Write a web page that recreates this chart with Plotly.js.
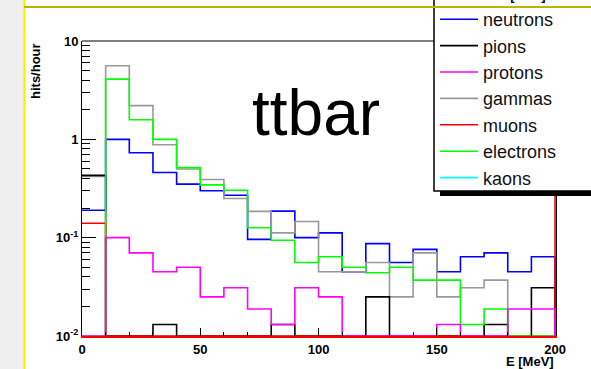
<!DOCTYPE html>
<html><head><meta charset="utf-8">
<script src="https://cdn.plot.ly/plotly-3.0.1.min.js"></script>
<style>html,body{margin:0;padding:0;background:#fff}#chart{width:591px;height:369px}</style>
</head><body><div id="chart"></div>
<script>
// ---- data (hits/hour per 10 MeV bin, 0 = empty bin) ----
const binEdges = [0,10,20,30,40,50,60,70,80,90,100,110,120,130,140,150,160,170,180,190,200];
const neutrons  = [0.19,1.0,0.73,0.46,0.35,0.30,0.27,0.096,0.186,0.10,0.112,0.045,0.087,0.056,0.076,0.045,0.064,0.070,0.045,0.064];
const pions     = [0.43,0,0,0.0131,0,0,0,0,0.0131,0,0,0,0.025,0,0,0,0,0.0131,0,0.031];
const protons   = [0,0.10,0.070,0.045,0.050,0.025,0.031,0.0188,0.0131,0.031,0.025,0,0,0,0,0.0131,0,0,0.0188,0.0188];
const gammas    = [0.42,5.6,2.2,0.88,0.50,0.39,0.25,0.185,0.112,0.146,0.045,0.045,0.056,0.025,0.070,0.025,0.031,0.037,0,0];
const muons     = [0.14,0,0,0,0,0,0,0,0,0,0,0,0,0,0,0,0,0,0,0];
const muonsOverflow = 1000;   // overflow bin (200-210 MeV), off the visible range
const electrons = [0,4.1,1.58,1.0,0.515,0.344,0.303,0.126,0.094,0.056,0.064,0.050,0.044,0.050,0.037,0.037,0.0131,0.0188,0,0];
const kaons     = [0,0,0,0,0,0,0,0,0,0,0,0,0,0,0,0,0,0,0,0];
const seriesNames = ['neutrons','pions','protons','gammas','muons','electrons','kaons'];
const yTickVals = [0.01,0.1,1,10];
const yTickText = ['10<sup>-2</sup>','10<sup>-1</sup>','1','10'];
const xTickVals = [0,50,100,150,200];

// ---- helpers ----
const FLOOR = 0.01; // empty bins drawn at the frame minimum (ROOT style)
function stepTrace(name, values, color, rank, edges) {
  edges = edges || binEdges;
  const xs = [], ys = [];
  for (let i = 0; i < values.length; i++) { xs.push(edges[i]); ys.push(values[i] > 0 ? values[i] : FLOOR); }
  xs.push(edges[values.length]); ys.push(ys[ys.length-1]);
  xs.push(edges[values.length]); ys.push(FLOOR);
  return {type:'scatter', mode:'lines', name:name, x:xs, y:ys,
    line:{shape:'hv', color:color, width:1.6}, legendrank:rank, hoverinfo:'skip'};
}
const L = 82, R = 35, T = 41, B = 33, W = 591, H = 369;
const PW = W - L - R, PH = H - T - B;
const px = v => (v - L) / PW;
const py = v => (H - B - v) / PH;

const minorY = [];
[0.01,0.1,1].forEach(d => { for (let k = 2; k <= 9; k++) minorY.push(+(k*d).toPrecision(3)); });

const traces = [
  stepTrace(seriesNames[6], kaons, '#00ffff', 7),
  stepTrace(seriesNames[0], neutrons, '#0000ff', 1),
  stepTrace(seriesNames[3], gammas, '#999999', 4),
  stepTrace(seriesNames[1], pions, '#000000', 2),
  stepTrace(seriesNames[4], muons.concat([muonsOverflow]), '#ff0000', 5, binEdges.concat([210])),
  stepTrace(seriesNames[5], electrons, '#00ff00', 6),
  stepTrace(seriesNames[2], protons, '#ff00ff', 3)
];

const tickFont = {family:'Liberation Sans, Arial, sans-serif', size:13, weight:'bold', color:'#000'};
const layout = {
  width:W, height:H, autosize:false,
  margin:{l:L, r:R, t:T, b:B, pad:0, autoexpand:false},
  paper_bgcolor:'#fff', plot_bgcolor:'#fff',
  font:{family:'Liberation Sans, Arial, sans-serif', color:'#000'},
  showlegend:true,
  legend:{x:px(435), y:py(1), xanchor:'left', yanchor:'top', bgcolor:'rgba(0,0,0,0)', borderwidth:0,
    font:{family:'Liberation Sans, Arial, sans-serif', size:18, color:'#111'}, itemwidth:38, traceorder:'normal'},
  xaxis:{type:'linear', range:[0,200.4], tickmode:'array', tickvals:xTickVals, ticks:'inside', ticklen:8,
    tickcolor:'#000', tickwidth:1, showline:true, linecolor:'#ff0000', linewidth:2, mirror:false,
    showgrid:false, zeroline:false, tickfont:tickFont,
    minor:{dtick:10, tick0:0, ticks:'inside', ticklen:4, tickcolor:'#000', tickwidth:1, showgrid:false}},
  yaxis:{type:'log', range:[-2,1], tickmode:'array', tickvals:yTickVals, ticktext:yTickText,
    ticks:'inside', ticklen:14, tickcolor:'#000', tickwidth:1, showline:true, linecolor:'#000', linewidth:1,
    mirror:true, showgrid:false, zeroline:false, tickfont:tickFont,
    minor:{tickvals:minorY, ticks:'inside', ticklen:8, tickcolor:'#000', tickwidth:1, showgrid:false}},
  shapes:[
    {type:'rect', xref:'paper', yref:'paper', x0:px(-5), x1:px(24), y0:py(-5), y1:py(375), layer:'below',
      fillcolor:'#efefef', line:{width:0}},
    {type:'line', xref:'paper', yref:'paper', x0:px(24.5), x1:px(24.5), y0:py(-5), y1:py(375), layer:'above',
      line:{color:'#f2f200', width:2}},
    {type:'line', xref:'paper', yref:'paper', x0:0, x1:1, y0:1, y1:1, layer:'above',
      line:{color:'#000', width:1}},
    {type:'rect', xref:'paper', yref:'paper', x0:px(440), x1:px(600), y0:py(196), y1:py(189), layer:'above',
      fillcolor:'#000', line:{width:0}},
    {type:'rect', xref:'paper', yref:'paper', x0:px(434), x1:px(600), y0:py(191), y1:py(-5), layer:'above',
      fillcolor:'#fff', line:{color:'#000', width:1.5}},
    {type:'line', xref:'paper', yref:'paper', x0:px(24), x1:px(600), y0:py(7), y1:py(7), layer:'above',
      line:{color:'#bcb400', width:2}}
  ],
  annotations:[
    {text:'ttbar', xref:'paper', yref:'paper', x:px(316), y:py(113), xanchor:'center', yanchor:'middle',
      showarrow:false, font:{family:'Liberation Sans, Arial, sans-serif', size:64, color:'#000'}},
    {text:'hits/hour', xref:'paper', yref:'paper', x:px(36), y:py(71), xanchor:'center', yanchor:'middle',
      textangle:-90, showarrow:false, font:{family:'Liberation Sans, Arial, sans-serif', size:13, weight:'bold', color:'#000'}},
    {text:'E [MeV]', xref:'paper', yref:'paper', x:px(556), y:py(361), xanchor:'right', yanchor:'middle',
      showarrow:false, font:{family:'Liberation Sans, Arial, sans-serif', size:13, weight:'bold', color:'#000'}},
    {text:'E [MeV]', xref:'paper', yref:'paper', x:px(548), y:py(-4), xanchor:'right', yanchor:'middle',
      showarrow:false, font:{family:'Liberation Sans, Arial, sans-serif', size:13, weight:'bold', color:'#000'}}
  ]
};
Plotly.newPlot('chart', traces, layout, {displayModeBar:false, staticPlot:true});
</script></body></html>
